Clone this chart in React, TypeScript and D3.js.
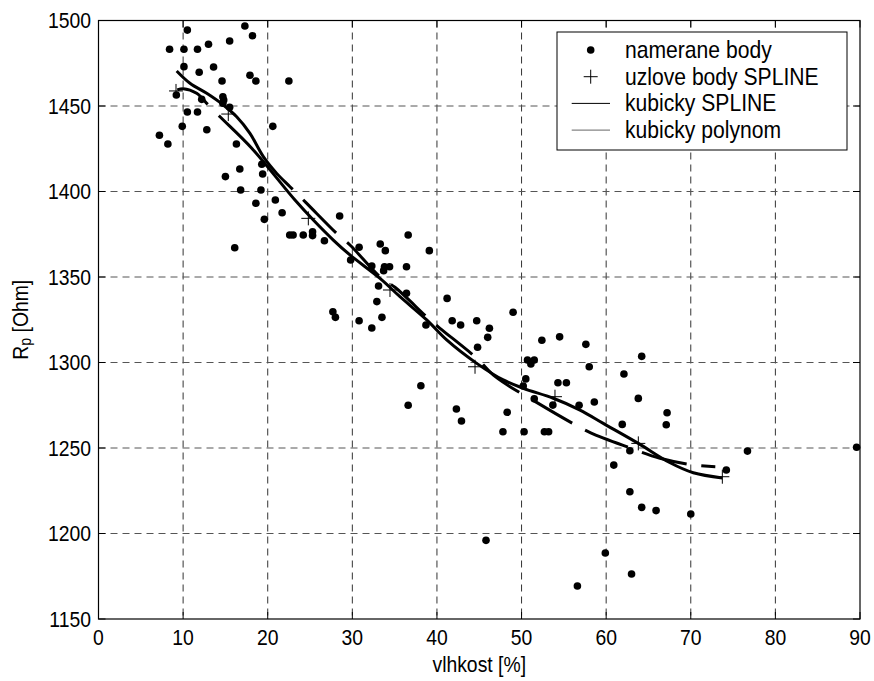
import React from "react";
import * as d3 from "d3";

// measured points (namerane body)
const pointX = [10.5,17.3,18.2,8.4,10.1,11.7,13.0,15.5,10.1,11.9,13.6,17.9,18.6,14.6,22.5,9.2,14.7,14.8,14.7,12.2,15.5,10.5,11.7,9.9,12.8,20.6,7.2,8.2,16.3,16.7,19.3,19.4,15.0,16.8,19.2,18.6,20.9,19.6,21.7,22.6,16.1,
  28.5,23.0,24.2,25.3,25.3,26.7,30.8,33.3,33.9,36.6,39.1,29.8,32.3,33.8,34.4,33.7,36.4,33.1,36.4,32.9,41.2,27.7,28.0,30.8,33.5,32.3,41.8,42.8,44.7,38.7,44.8,38.1,
  49.0,46.2,46.0,52.4,54.5,57.6,64.2,50.7,51.5,51.1,58.0,62.1,50.5,50.2,54.3,55.3,51.5,63.8,53.7,56.8,58.6,67.2,67.1,61.9,48.3,47.8,50.3,52.7,53.2,
  62.8,60.9,62.8,64.2,65.9,45.8,59.9,63.0,56.6,76.7,89.6,74.2,70.0,42.3,42.9,36.6];
const pointY = [1494.4,1496.8,1491.1,1483.2,1483.2,1483.2,1486.1,1488,1473,1469.7,1472.8,1468,1464.6,1464.6,1464.6,1456.4,1455.4,1453.5,1451.6,1453.9,1449.2,1446.5,1446.5,1438.1,1436.1,1438.1,1432.9,1427.8,1427.8,1413.2,1415.9,1410.2,1408.7,1400.9,1400.9,1393.1,1395,1383.7,1387.6,1374.6,1367.1,
  1385.7,1374.6,1374.6,1376.5,1374.2,1371.2,1367.4,1369.3,1365.4,1374.6,1365.4,1359.9,1356.4,1356,1356,1353.7,1356,1344.7,1340.5,1335.6,1337.5,1329.7,1326.4,1324.4,1326.4,1320.2,1324.4,1321.9,1324.4,1321.9,1308.9,1286.4,
  1329.4,1320,1314.7,1313,1315,1310.6,1303.6,1301.5,1301.5,1299.1,1297.5,1293.3,1290.4,1286.3,1288.2,1288.2,1278.8,1279,1275.1,1275,1276.9,1270.6,1263.6,1263.8,1270.9,1259.5,1259.5,1259.5,1259.5,
  1248.4,1240,1224.4,1215.3,1213.4,1196,1188.6,1176.3,1169.3,1248.2,1250.4,1237.1,1211.4,1272.8,1265.8,1275];

// spline knots (uzlove body SPLINE)
const knotX = [9.16,15.34,24.8,34.45,44.5,53.95,63.8,73.73];
const knotY = [1458.8,1445.3,1384.3,1342.4,1297.5,1280,1252.7,1233.2];

// kubicky SPLINE curve
const splineX = [9.31,10.02,11.6,12.98,14.36,18.11,23.22,25.39,27.75,29.72,33.27,35.63,38.79,41.15,44.7,47.84,50.21,53.75,56.91,59.66,63.8,67.5,70.3,73.73];
const splineY = [1459.4,1460.1,1457.4,1450.6,1443.7,1425.3,1395,1383.3,1371.6,1362.9,1349.2,1338.5,1324.9,1313.2,1299.5,1289.8,1284.9,1279.1,1272.2,1264.4,1252.7,1241.5,1235.5,1232.5];

// kubicky polynom curve
const polyX = [9.24,10.81,12.79,14.75,16.33,17.9,19.48,21.06,22.63,24.52,28.46,29.72,33.47,35.04,38.98,40.36,44.7,46.9,51.98,56.59,58.17,62.43,66.36,70.3,72.9];
const polyY = [1470.5,1463.3,1457.4,1450.6,1443.7,1434,1420.4,1410.6,1402.8,1393.5,1374,1368.7,1349.2,1344,1325.8,1320,1302.5,1291.7,1276.1,1262.9,1258.9,1250.8,1244,1240.1,1239.1];

const xTicks = [0,10,20,30,40,50,60,70,80,90];
const yTicks = [1150,1200,1250,1300,1350,1400,1450,1500];
const legendLabels = ["namerane body","uzlove body SPLINE","kubicky SPLINE","kubicky polynom"];

const W = 874, H = 681;
const L = 98.5, R = 860, T = 20.5, B = 619;
const FONT = "'Liberation Sans', Arial, Helvetica, sans-serif";
const SX = 0.88;

function Txt(props: { x: number; y: number; anchor?: string; size: number; children: React.ReactNode; rotate?: number }) {
  const { x, y, anchor = "start", size, children, rotate = 0 } = props;
  return (
    <text
      transform={`translate(${x},${y}) rotate(${rotate}) scale(${SX},1)`}
      textAnchor={anchor}
      dominantBaseline="central"
      fontSize={size}
    >
      {children}
    </text>
  );
}

export default function App() {
  const x = d3.scaleLinear().domain([0, 90]).range([L, R]);
  const y = d3.scaleLinear().domain([1150, 1500]).range([B, T]);
  const line = d3.line<[number, number]>().x(d => x(d[0])).y(d => y(d[1])).curve(d3.curveCatmullRom.alpha(0.5));
  const splinePath = line(splineX.map((v, i) => [v, splineY[i]] as [number, number])) || "";
  const polyPath = line(polyX.map((v, i) => [v, polyY[i]] as [number, number])) || "";
  const polyDash = ["168 15", ...Array(16).fill("46 15")].join(" ");
  const tickLen = 7;
  const lx = 557, ly = 32, lw = 290, lh = 118;
  const rowY = (i: number) => 50 + i * 26.7;
  return (
    <svg width={W} height={H} style={{ position: "absolute", left: 0, top: 0, background: "#fff" }} fontFamily={FONT}>
      <rect x={0} y={0} width={W} height={H} fill="#fff" />
      {/* grid */}
      {xTicks.slice(1, -1).map(t => (
        <line key={"gx" + t} x1={x(t)} x2={x(t)} y1={T} y2={B} stroke="#333" strokeWidth={1} strokeDasharray="7 5" />
      ))}
      {yTicks.slice(1, -1).map(t => (
        <line key={"gy" + t} x1={L} x2={R} y1={y(t)} y2={y(t)} stroke="#555" strokeWidth={1} strokeDasharray="7 5" />
      ))}
      {/* ticks */}
      {xTicks.map(t => (
        <g key={"tx" + t}>
          <line x1={x(t)} x2={x(t)} y1={B} y2={B - tickLen} stroke="#000" />
          <line x1={x(t)} x2={x(t)} y1={T} y2={T + tickLen} stroke="#000" />
          <Txt x={x(t)} y={637} anchor="middle" size={22}>{t}</Txt>
        </g>
      ))}
      {yTicks.map(t => (
        <g key={"ty" + t}>
          <line x1={L} x2={L + tickLen} y1={y(t)} y2={y(t)} stroke="#000" />
          <line x1={R} x2={R - tickLen} y1={y(t)} y2={y(t)} stroke="#000" />
          <Txt x={91} y={y(t)} anchor="end" size={22}>{t}</Txt>
        </g>
      ))}
      {/* data points */}
      {pointX.map((v, i) => (
        <circle key={"p" + i} cx={x(v)} cy={y(pointY[i])} r={3.8} fill="#000" />
      ))}
      {/* curves */}
      <path d={polyPath} fill="none" stroke="#000" strokeWidth={3} strokeDasharray={polyDash} />
      <path d={splinePath} fill="none" stroke="#000" strokeWidth={3} strokeDasharray="36 16 3000" />
      {/* knots */}
      {knotX.map((v, i) => (
        <g key={"k" + i} stroke="#000" strokeWidth={1}>
          <line x1={x(v) - 7} x2={x(v) + 7} y1={y(knotY[i])} y2={y(knotY[i])} />
          <line x1={x(v)} x2={x(v)} y1={y(knotY[i]) - 7} y2={y(knotY[i]) + 7} />
        </g>
      ))}
      {/* axes box */}
      <rect x={L} y={T} width={R - L} height={B - T} fill="none" stroke="#000" strokeWidth={1.2} />
      {/* axis labels */}
      <Txt x={(L + R) / 2} y={664} anchor="middle" size={22}>vlhkost [%]</Txt>
      <Txt x={20} y={(T + B) / 2} anchor="middle" size={22} rotate={-90}>
        R<tspan fontSize={16} dy={5}>p</tspan><tspan dy={-5}> [Ohm]</tspan>
      </Txt>
      {/* legend */}
      <rect x={lx} y={ly} width={lw} height={lh} fill="#fff" stroke="#000" strokeWidth={1} />
      <circle cx={590.7} cy={rowY(0)} r={3.8} fill="#000" />
      <g stroke="#000" strokeWidth={1}>
        <line x1={583.7} x2={597.7} y1={rowY(1)} y2={rowY(1)} />
        <line x1={590.7} x2={590.7} y1={rowY(1) - 7} y2={rowY(1) + 7} />
      </g>
      <line x1={571.7} x2={610} y1={rowY(2)} y2={rowY(2)} stroke="#000" strokeWidth={1} />
      <line x1={571.7} x2={610} y1={rowY(3)} y2={rowY(3)} stroke="#666" strokeWidth={1} />
      {legendLabels.map((s, i) => (
        <Txt key={s} x={625} y={rowY(i)} size={24}>{s}</Txt>
      ))}
    </svg>
  );
}
